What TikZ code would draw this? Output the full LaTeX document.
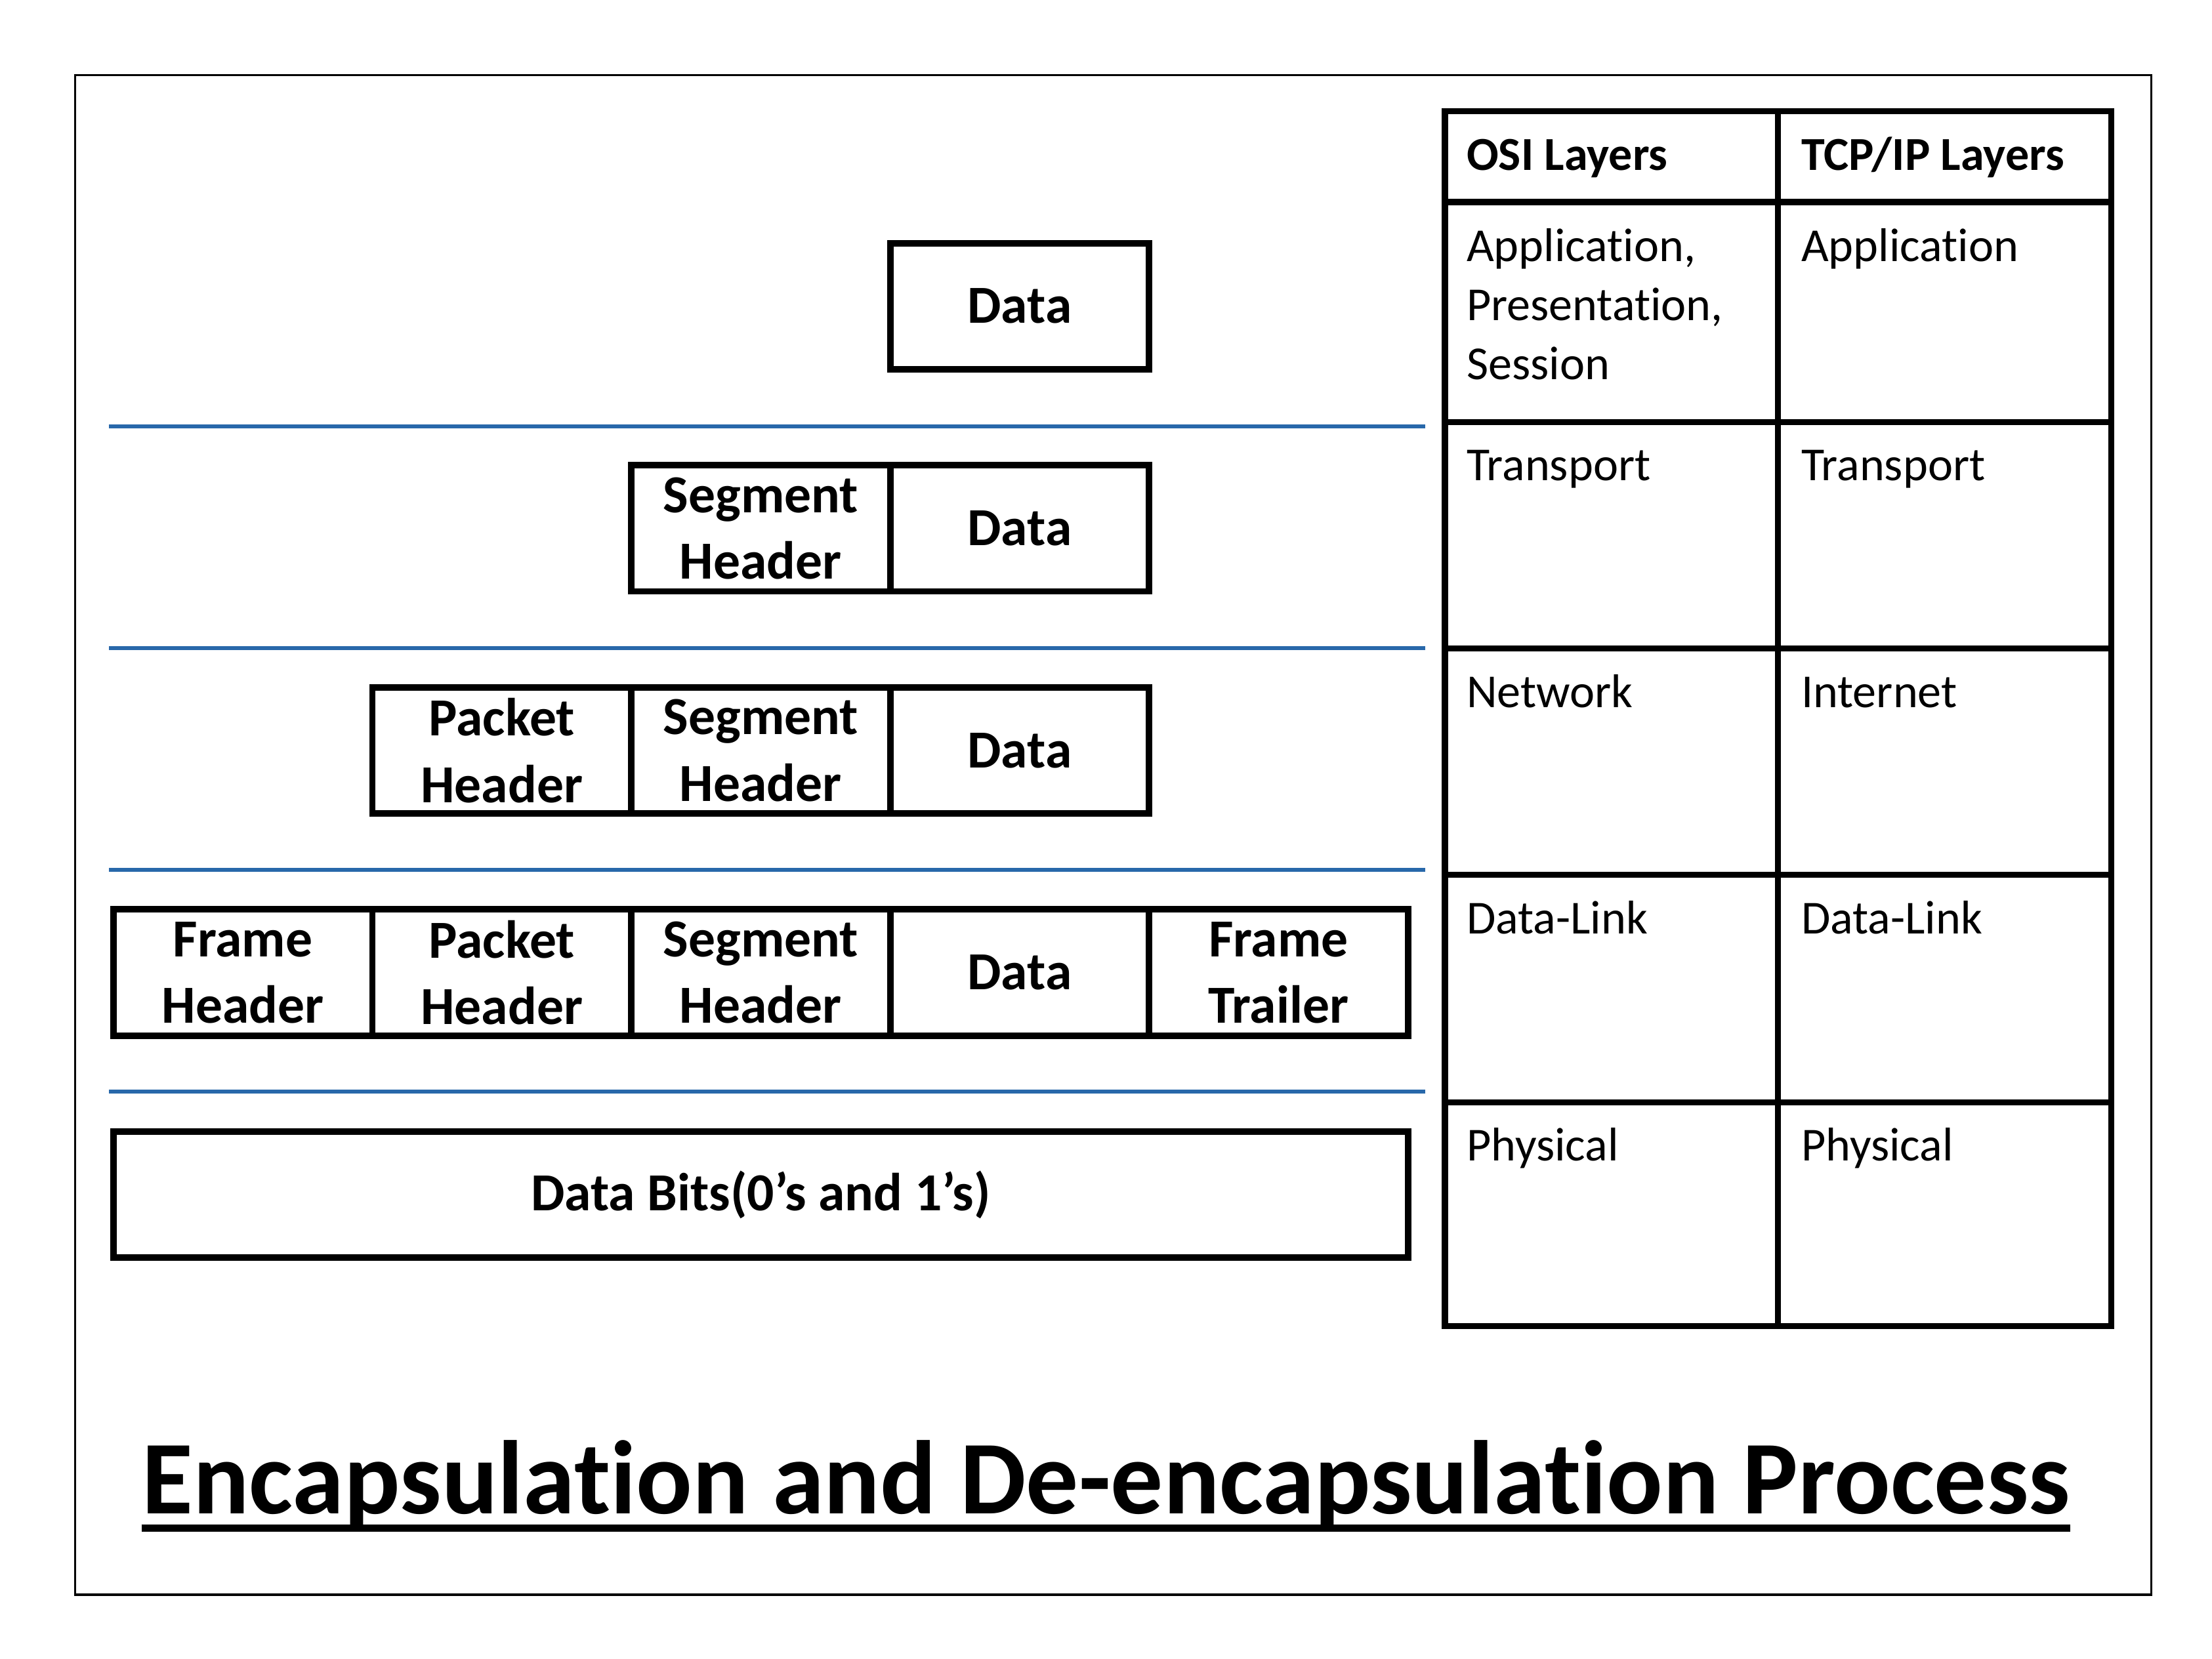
\documentclass[tikz,border=0pt]{standalone}
\usepackage{fontspec}
\setmainfont{Carlito}[Ligatures={TeX,NoCommon}]
\usetikzlibrary{positioning}

\definecolor{layerblue}{RGB}{40,104,170}

\tikzset{
  pdu/.style={draw, line width=2.6pt, minimum width=3.652cm, minimum height=1.78cm,
    outer sep=0pt, inner sep=0pt, align=center, font=\fontsize{21.5}{26.7}\selectfont\bfseries},
  layerline/.style={draw=layerblue, line width=1.6pt},
  tablerule/.style={line width=2.45pt},
  layertext/.style={anchor=base west, inner sep=0pt, align=left, font=\fontsize{19}{23.6}\selectfont},
}

\begin{document}
\begin{tikzpicture}
    \useasboundingbox (0,0) rectangle (31.2,23.4);
    \fill[white] (0,0) rectangle (31.2,23.4);
    \draw[line width=0.85pt] (1.06,0.9) rectangle (30.34,22.34);
    % application
    \node[pdu] (data1) at (14.382,19.08) {Data};
    % transport
    \node[pdu] (data2) at (14.382,15.946) {Data};
    \node[pdu, left=0pt of data2] (seg2) {Segment\\Header};
    % network
    \node[pdu] (data3) at (14.382,12.812) {Data};
    \node[pdu, left=0pt of data3] (seg3) {Segment\\Header};
    \node[pdu, left=0pt of seg3] (pkt3) {Packet\\Header};
    % data link
    \node[pdu] (data4) at (14.382,9.678) {Data};
    \node[pdu, left=0pt of data4] (seg4) {Segment\\Header};
    \node[pdu, left=0pt of seg4] (pkt4) {Packet\\Header};
    \node[pdu, left=0pt of pkt4] (frm4) {Frame\\Header};
    \node[pdu, right=0pt of data4] (trl4) {Frame\\Trailer};
    % physical
    \node[pdu, minimum width=18.26cm] (bits5) at (10.73,6.544) {Data Bits(0’s and 1’s)};
    % layer separators
    \draw[layerline] (1.54,17.386) -- (20.1,17.386);
    \draw[layerline] (1.54,14.258) -- (20.1,14.258);
    \draw[layerline] (1.54,11.13) -- (20.1,11.13);
    \draw[layerline] (1.54,8.0) -- (20.1,8.0);
    % OSI vs TCP/IP table
    \draw[tablerule] (20.38,4.69) rectangle (29.78,21.83);
    \draw[tablerule] (25.08,4.69) -- (25.08,21.83);
    \draw[tablerule] (20.38,20.55) -- (29.78,20.55);
    \draw[tablerule] (20.38,17.446) -- (29.78,17.446);
    \draw[tablerule] (20.38,14.25) -- (29.78,14.25);
    \draw[tablerule] (20.38,11.056) -- (29.78,11.056);
    \draw[tablerule] (20.38,7.846) -- (29.78,7.846);
    \node[layertext] (osi) at (20.68,21.0) {\bfseries OSI Layers};
    \node[layertext] (tcpip) at (25.4,21.0) {\bfseries TCP/IP Layers};
    \node[layertext] (osiapp) at (20.68,18.05) {Application,\\Presentation,\\Session};
    \node[layertext] (tcpapp) at (25.4,19.71) {Application};
    \node[layertext] (ositrn) at (20.68,16.62) {Transport};
    \node[layertext] (tcptrn) at (25.4,16.62) {Transport};
    \node[layertext] (osinet) at (20.68,13.42) {Network};
    \node[layertext] (tcpnet) at (25.4,13.42) {Internet};
    \node[layertext] (osidl) at (20.68,10.226) {Data-Link};
    \node[layertext] (tcpdl) at (25.4,10.226) {Data-Link};
    \node[layertext] (osiphy) at (20.68,7.02) {Physical};
    \node[layertext] (tcpphy) at (25.4,7.02) {Physical};
    % title
    \node[anchor=base, inner sep=0pt, font=\fontsize{42}{50}\selectfont\bfseries] (title) at (15.6,2.04)
      {Encapsulation and De-encapsulation Process};
    \draw[line width=2.8pt] ([yshift=-0.2cm]title.base west) -- ([yshift=-0.2cm]title.base east);
\end{tikzpicture}
\end{document}
